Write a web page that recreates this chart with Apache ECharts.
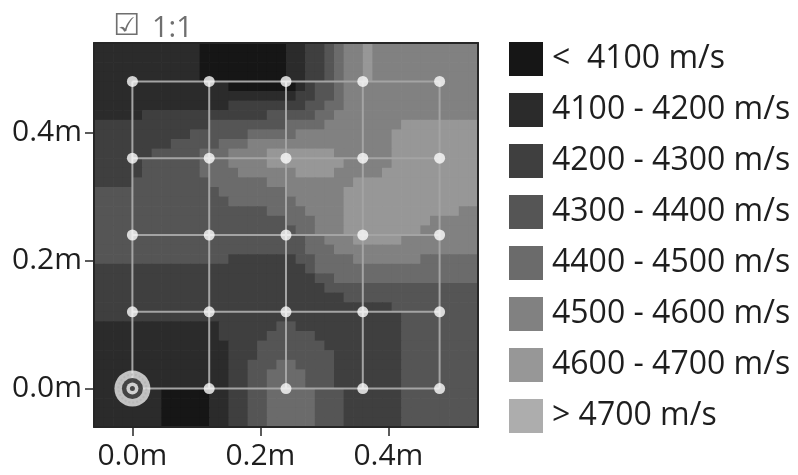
<!DOCTYPE html>
<html><head><meta charset="utf-8">
<script src="https://cdn.jsdelivr.net/npm/echarts@6/dist/echarts.min.js"></script>
<style>html,body{margin:0;padding:0;background:#fff}#c{width:798px;height:475px}</style>
</head><body><div id="c"></div>
<script>
// Velocity class (0..7) on a 40 x 40 grid of 0.015 m cells,
// top row first; "LxN" = class L repeated N times.
const levelRows = [
  "1x11 0x9 1x2 2x2 3 4 5x2 6 5x11",
  "1x11 0x9 1x2 2x2 3 4 5x2 6 5x11",
  "1x11 0x9 1x2 2x2 3 4 5x2 6 5x11",
  "1x11 0x9 1x2 2x2 3 4 5x2 6 5x11",
  "1x14 0x7 1 2 3x2 4 5x14",
  "1x21 2x2 3x2 4 5x14",
  "1x14 2x8 3x2 4x2 5x14",
  "1x5 2x13 3x5 4x2 5x15",
  "2x12 3x8 4x4 5x8 6x8",
  "2x10 3x6 4x5 5x10 6x9",
  "2x8 3x5 4x3 5x15 6x9",
  "2x6 3x5 4x3 5x4 6x7 5x6 6x9",
  "2x5 3x6 4x3 5x4 6x8 5x5 6x9",
  "2x5 3x6 4x4 5x6 6x4 5x5 6x10",
  "2x4 3x8 4x6 5x9 6x13",
  "3x13 4x7 5x6 6x14",
  "3x14 4x7 5x5 6x14",
  "3x18 4x4 5x4 6x12 5x2",
  "3x20 4x3 5x3 6x9 5x5",
  "3x21 4x2 5x3 6x8 5x6",
  "3x22 4x2 5x3 6x5 5x8",
  "3x22 4x3 5x15",
  "3x14 2x7 3x2 4x4 5x7 4x6",
  "2x22 3 4x17",
  "2x23 3x2 4x15",
  "2x24 3x16",
  "2x26 3x14",
  "2x31 3x9",
  "2x32 3x8",
  "1x13 2x6 3x2 2x11 3x8",
  "1x13 2x5 3x5 2x9 3x8",
  "1x14 2x3 3x7 2x8 3x8",
  "1x14 2x3 3x8 2x7 3x8",
  "1x14 2x2 3x3 4x2 3x4 2x7 3x8",
  "1x14 2x2 3x2 4x4 3x3 2x7 3x8",
  "1x14 2x2 3x2 4x4 3x3 2x7 3x8",
  "1x7 0x5 1x2 2x2 3x2 4x5 3x3 2x6 3x8",
  "1x7 0x5 1x2 2x2 3x2 4x5 3x3 2x6 3x8",
  "1x7 0x5 1x2 2x2 3x2 4x5 3x3 2x6 3x8",
  "1x7 0x5 1x2 2x2 3x2 4x5 3x3 2x6 3x8"
];
const sensorX = [0, 0.12, 0.24, 0.36, 0.48];
const sensorY = [0, 0.12, 0.24, 0.36, 0.48];
const originSensor = [0, 0];
const tickValues = [0, 0.2, 0.4];
const legendLabels = ["<  4100 m/s", "4100 - 4200 m/s", "4200 - 4300 m/s", "4300 - 4400 m/s",
  "4400 - 4500 m/s", "4500 - 4600 m/s", "4600 - 4700 m/s", "> 4700 m/s"];
const levelColors = ["#161616", "#2b2b2b", "#3f3f3f", "#555555", "#6b6b6b", "#818181", "#979797", "#adadad"];

const AX_MIN = -0.06, AX_MAX = 0.54, CELL = 0.015;
const FONT = "Open Sans";

const cells = [];
levelRows.forEach((row, j) => {
  let i = 0;
  row.split(" ").forEach(tok => {
    const parts = tok.split("x");
    const lv = +parts[0], n = parts.length > 1 ? +parts[1] : 1;
    for (let k = 0; k < n; k++) {
      cells.push([AX_MIN + CELL * (i + 0.5), AX_MAX - CELL * (j + 0.5), lv]);
      i++;
    }
  });
});

const series = [{
  type: "custom",
  coordinateSystem: "cartesian2d",
  data: cells,
  encode: { x: 0, y: 1 },
  clip: true,
  z: 1,
  silent: true,
  renderItem: function (params, api) {
    const x = api.value(0), y = api.value(1), h = CELL / 2;
    const p0 = api.coord([x - h, y + h]);
    const p1 = api.coord([x + h, y - h]);
    return { type: "rect",
      shape: { x: p0[0], y: p0[1], width: p1[0] - p0[0] + 0.7, height: p1[1] - p0[1] + 0.7 },
      style: { fill: api.visual("color") } };
  }
}];
const lineStyle = { color: "#a4a4a4", width: 2 };
sensorY.forEach(y => series.push({ type: "line", data: sensorX.map(x => [x, y]), symbol: "none",
  lineStyle: lineStyle, z: 3, silent: true, animation: false }));
sensorX.forEach(x => series.push({ type: "line", data: sensorY.map(y => [x, y]), symbol: "none",
  lineStyle: lineStyle, z: 3, silent: true, animation: false }));
const pts = [];
sensorY.forEach(y => sensorX.forEach(x => { if (!(x === originSensor[0] && y === originSensor[1])) pts.push([x, y]); }));
series.push({ type: "scatter", data: pts, symbolSize: 11, itemStyle: { color: "#fbfbfb" }, z: 4, silent: true });
// origin marker (concentric rings)
series.push({ type: "scatter", data: [originSensor], symbolSize: 36, itemStyle: { color: "#e9e9e9" }, z: 5, silent: true });
series.push({ type: "scatter", data: [originSensor], symbolSize: 28, itemStyle: { color: "rgba(0,0,0,0)", borderColor: "#b5b5b5", borderWidth: 2, borderType: "dotted" }, z: 6, silent: true });
series.push({ type: "scatter", data: [originSensor], symbolSize: 21, itemStyle: { color: "#262626" }, z: 7, silent: true });
series.push({ type: "scatter", data: [originSensor], symbolSize: 12, itemStyle: { color: "#f4f4f4" }, z: 8, silent: true });
series.push({ type: "scatter", data: [originSensor], symbolSize: 5, itemStyle: { color: "#262626" }, z: 9, silent: true });

const labelFmt = v => v.toFixed(1) + "m";
const chart = echarts.init(document.getElementById("c"), null, { renderer: "canvas" });
chart.setOption({
  animation: false,
  backgroundColor: "#ffffff",
  grid: { left: 94, top: 43, width: 384, height: 384, show: false },
  xAxis: [{
    type: "value", min: AX_MIN, max: AX_MAX, position: "bottom", z: 10,
    axisLine: { show: true, onZero: false, lineStyle: { color: "#262626", width: 2 } },
    axisTick: { show: true, length: 9, customValues: tickValues, lineStyle: { color: "#262626", width: 1.5 } },
    axisLabel: { customValues: tickValues, formatter: labelFmt, margin: 14, fontSize: 30, color: "#1e1e1e", fontFamily: FONT },
    splitLine: { show: false }
  }, {
    type: "value", min: AX_MIN, max: AX_MAX, position: "top", z: 10,
    axisLine: { show: true, onZero: false, lineStyle: { color: "#262626", width: 2 } },
    axisTick: { show: false }, axisLabel: { show: false }, splitLine: { show: false }
  }],
  yAxis: [{
    type: "value", min: AX_MIN, max: AX_MAX, position: "left", z: 10,
    axisLine: { show: true, onZero: false, lineStyle: { color: "#262626", width: 2 } },
    axisTick: { show: true, length: 9, customValues: tickValues, lineStyle: { color: "#262626", width: 1.5 } },
    axisLabel: { customValues: tickValues, formatter: labelFmt, margin: 12, fontSize: 30, color: "#1e1e1e", fontFamily: FONT },
    splitLine: { show: false }
  }, {
    type: "value", min: AX_MIN, max: AX_MAX, position: "right", z: 10,
    axisLine: { show: true, onZero: false, lineStyle: { color: "#262626", width: 2 } },
    axisTick: { show: false }, axisLabel: { show: false }, splitLine: { show: false }
  }],
  visualMap: {
    type: "piecewise", seriesIndex: 0, dimension: 2, orient: "vertical", inverse: true, align: "left",
    left: 509, top: 42, itemWidth: 34, itemHeight: 34, itemGap: 17, itemSymbol: "rect",
    textGap: 9, selectedMode: false, hoverLink: false, padding: 0,
    textStyle: { fontSize: 32, color: "#1e1e1e", fontFamily: FONT },
    pieces: levelColors.map((c, k) => ({ value: k, label: legendLabels[k], color: c }))
  },
  graphic: [
    { type: "text", left: 113, top: 12, style: { text: "\u2611", fontSize: 30, fill: "#6f6f6f", fontFamily: "DejaVu Sans" } },
    { type: "text", left: 152, top: 14, style: { text: "1:1", fontSize: 29, fill: "#6f6f6f", fontFamily: FONT } }
  ],
  series: series
});
</script></body></html>
